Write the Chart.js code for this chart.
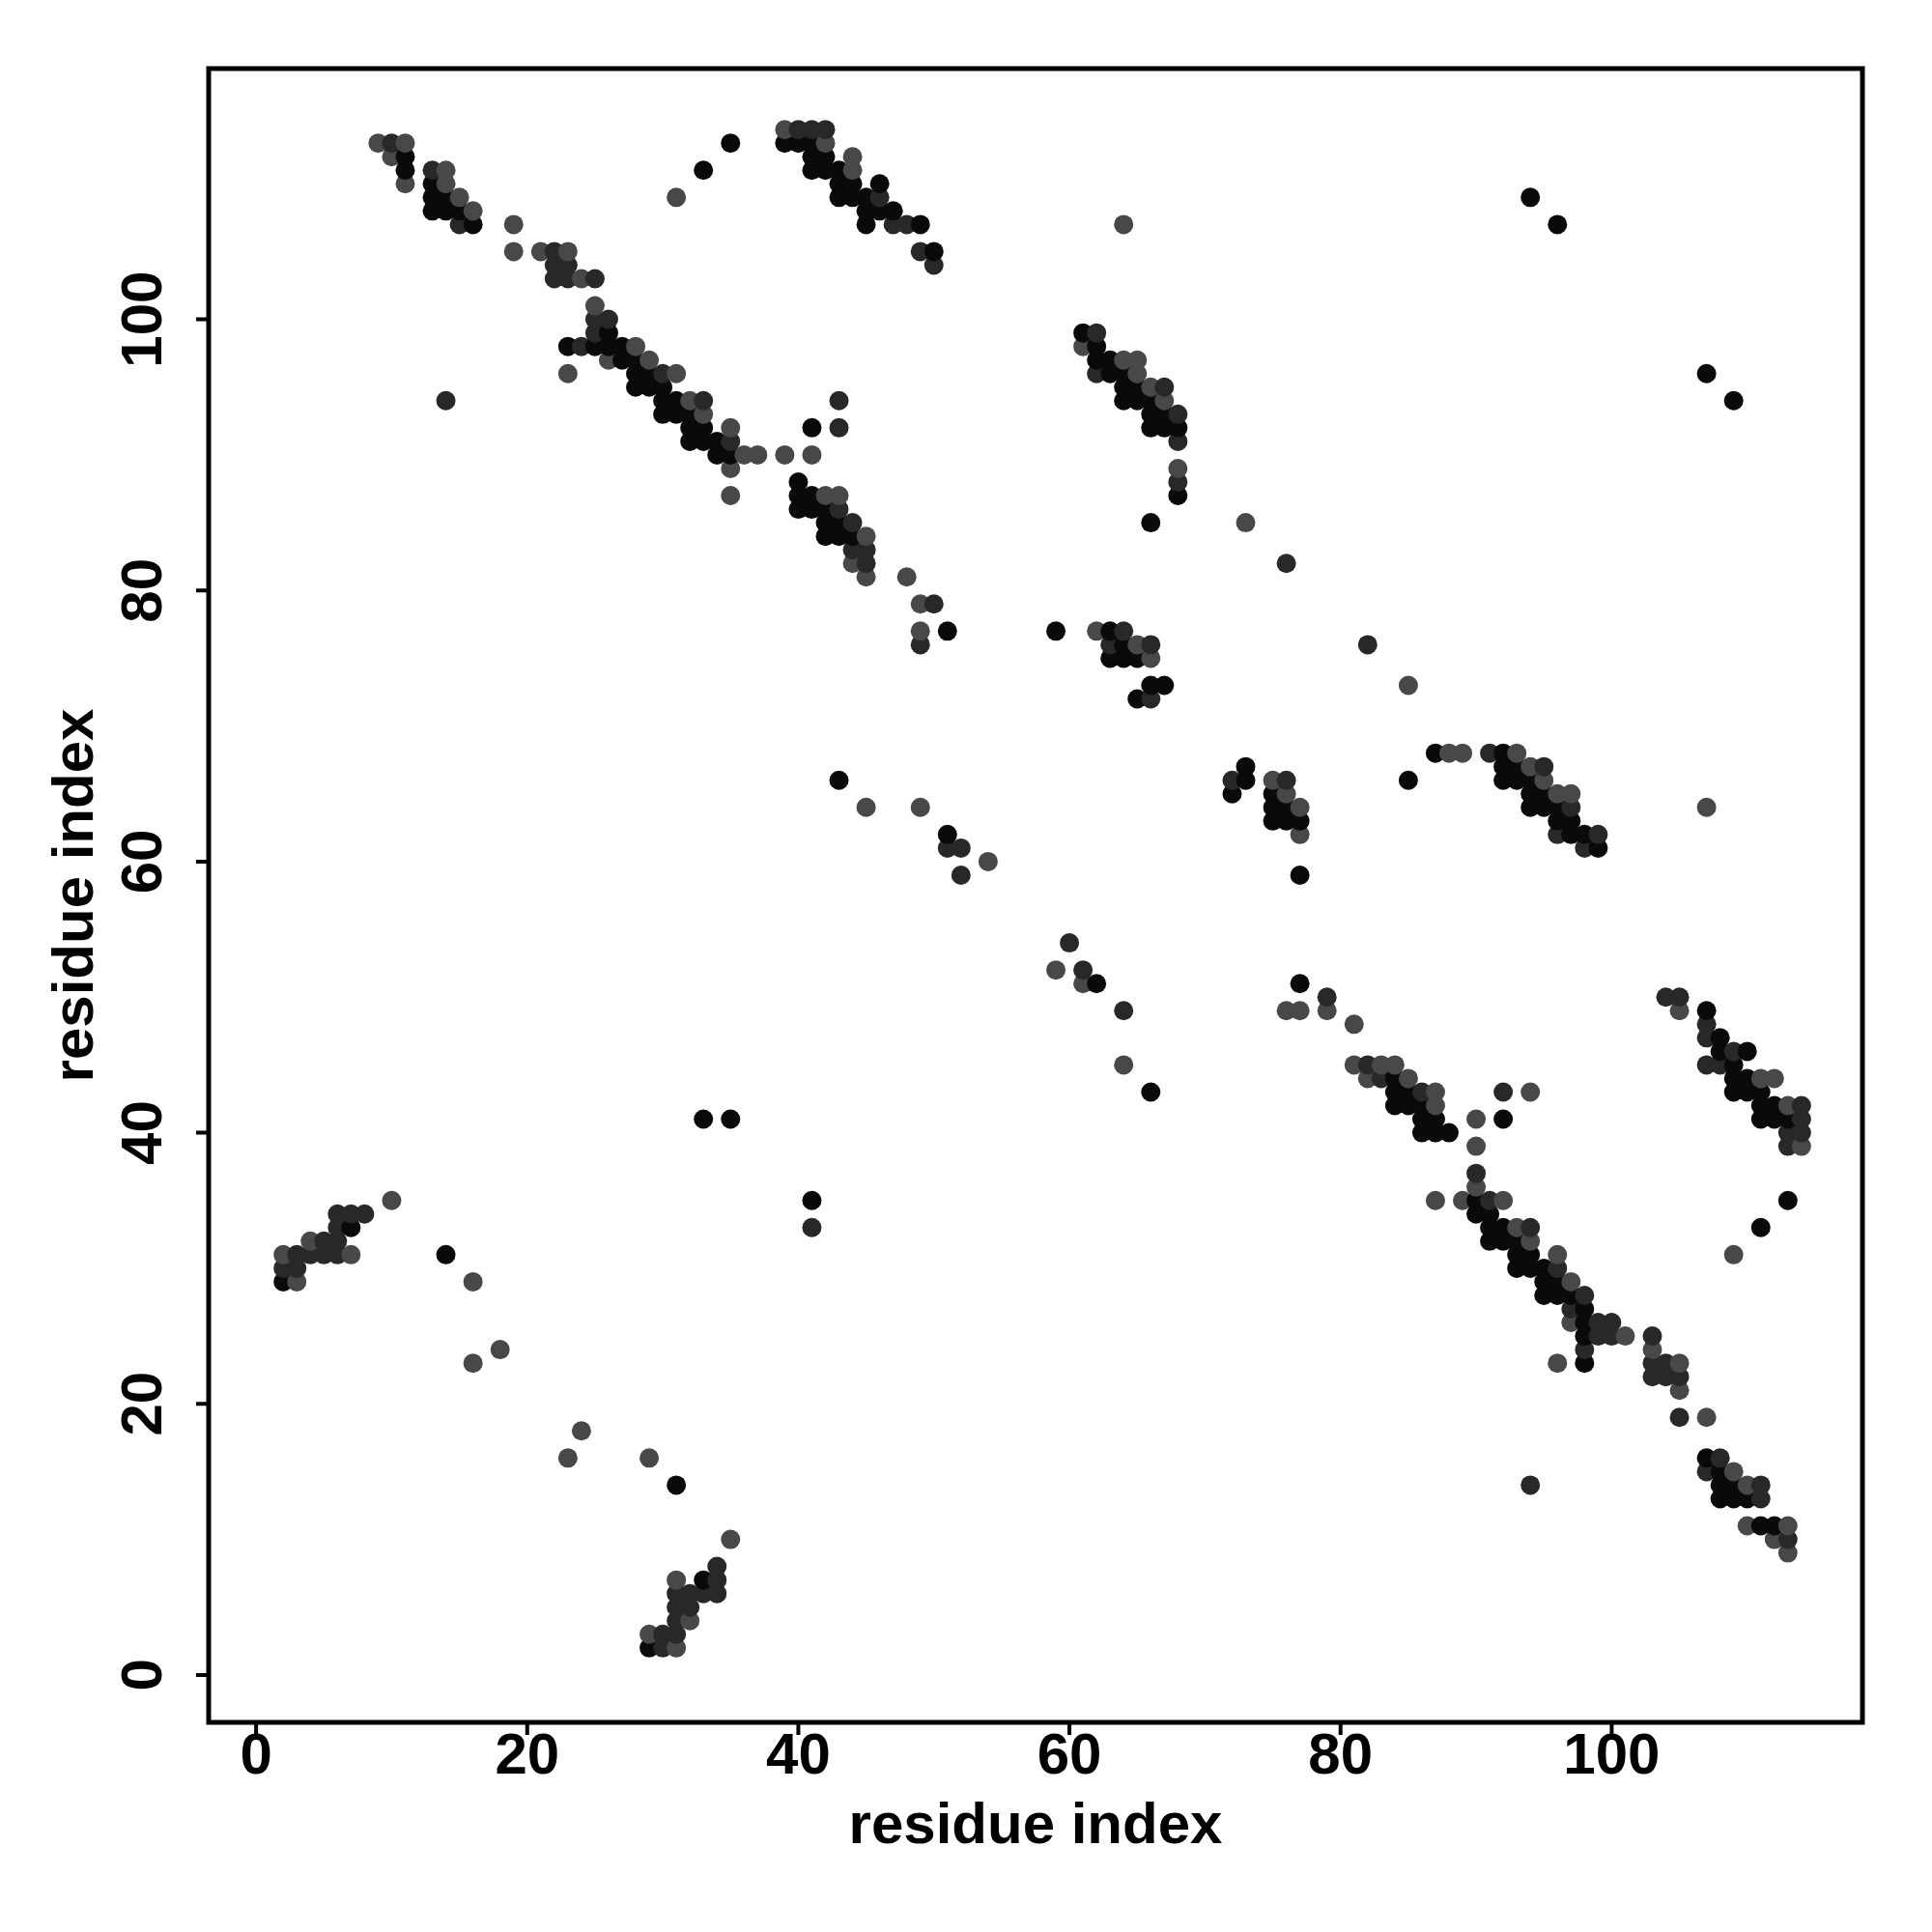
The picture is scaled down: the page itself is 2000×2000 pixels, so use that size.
<!DOCTYPE html>
<html><head><meta charset="utf-8">
<script src="https://cdn.jsdelivr.net/npm/chart.js@4.4.1/dist/chart.umd.min.js"></script>
<style>html,body{margin:0;padding:0;background:#fff}#wrap{width:2000px;height:2000px}</style>
</head><body><div id="wrap"><canvas id="c" width="2000" height="2000"></canvas></div>
<script>
// contacts drawn in near-black
const blackContacts = [[11,112],[11,111],[13,110],[13,109],[14,109],[13,108],[14,108],[15,108],[16,107],[26,99],[23,98],[25,98],[26,98],
[27,98],[27,97],[28,97],[28,96],[29,96],[28,95],[29,95],[30,95],[30,94],[31,94],[30,93],[31,93],[32,93],[32,92],[33,92],[32,91],[33,91],[34,91],[34,90],[35,90],
[33,111],[35,113],
[39,113],[40,113],[41,113],[41,112],[42,112],[41,111],[42,111],[43,111],[43,110],[44,110],[46,110],[43,109],[44,109],[45,109],[45,108],[46,108],[47,108],[45,107],[49,107],[50,105],[41,92],[40,88],[40,87],[41,87],[40,86],[41,86],[42,86],[42,85],[43,85],[42,84],[43,84],[44,84],[51,77],
[61,99],[62,98],[62,97],[63,97],[63,96],[64,96],[64,95],[65,95],[64,94],[65,94],[66,94],[66,93],[67,93],[66,92],[67,92],[68,92],[68,87],[66,85],[59,77],[63,77],[64,76],[63,75],[64,75],[65,75],[66,73],[67,73],[65,72],[73,67],[73,66],[72,65],[75,65],[75,64],[76,64],[75,63],[76,63],[77,63],[77,59],
[85,66],[87,68],[92,68],[92,67],[93,67],[92,66],[93,66],[94,66],[94,65],[95,65],[94,64],[95,64],[96,64],[96,63],[97,63],[97,62],[98,62],[99,61],
[84,44],[84,43],[85,43],[84,42],[85,42],[86,42],[86,41],[87,41],[86,40],[87,40],[88,40],[92,41],
[107,49],[108,47],[108,46],[110,46],[109,45],[109,44],[110,44],[109,43],[110,43],[111,43],[111,42],[112,42],[111,41],[112,41],[113,41],
[90,35],[90,34],[91,34],[91,33],[92,33],[91,32],[92,32],[93,32],[93,31],[94,31],[93,30],[94,30],[95,30],[95,29],[96,29],[95,28],[96,28],[97,28],[98,27],[98,26],[98,25],[98,23],
[107,16],[108,15],[108,14],[109,14],[108,13],[109,13],[110,13],[111,11],[112,11],
[7,33],[2,29],[33,7],[29,2],
[94,109],[96,107],[107,96],[109,94],[43,66],[51,62],[62,51],[66,43],[77,51],[113,35],[111,33],[33,41],[35,41],[41,35],[14,31],[31,14]];

// contacts drawn in dark grey
const darkContacts = [[10,113],[13,111],[15,107],[22,105],[22,104],[23,104],[22,103],[23,103],[25,103],[25,100],[26,100],[25,99],[24,98],[14,94],
[30,96],[33,94],[35,91],
[40,114],[41,114],[42,114],[46,109],[47,107],[48,107],[49,105],[50,104],[43,94],[43,92],[43,86],[44,85],[44,83],[45,83],[45,82],[50,79],[49,76],
[62,99],[62,96],[67,95],[68,93],[68,91],[68,88],[76,82],[64,77],[63,76],[66,76],[66,72],[72,66],[76,66],
[91,68],[95,67],[97,64],[96,62],[99,62],[98,61],
[79,50],[82,45],[83,44],[86,43],[92,43],
[104,50],[105,50],[107,48],[107,47],[109,46],[107,45],[108,45],[114,42],[114,41],[113,40],[114,40],[113,39],
[90,37],[91,35],[94,33],[96,30],[98,28],[97,27],[99,26],[100,26],[99,25],[100,25],[98,24],
[103,25],[103,23],[104,23],[103,22],[104,22],[105,22],[105,19],[108,16],[107,15],[111,14],[111,13],[113,10],
[6,34],[7,34],[8,34],[6,33],[5,32],[6,32],[3,31],[4,31],[5,31],[6,31],[2,30],[3,30],
[34,8],[34,7],[31,6],[32,6],[33,6],[34,6],[31,5],[32,5],[31,4],[30,3],[31,3],[30,2],
[82,76],[51,61],[52,61],[52,59],[60,54],[61,52],[64,49],[94,14],[41,33]];

// contacts drawn in mid grey
const grayContacts = [[9,113],[11,113],[10,112],[11,110],[14,111],[14,110],[15,109],[16,108],[19,107],[19,105],[21,105],[23,105],[24,103],[25,101],[26,97],[23,96],
[28,98],[29,97],[31,96],[32,94],[33,93],[35,92],[36,90],[37,90],[39,90],[35,89],[35,87],
[39,114],[42,113],[44,112],[44,111],[42,87],[43,87],[45,84],[44,82],[45,81],[48,81],[49,79],[49,77],[41,90],
[61,98],[64,97],[65,97],[65,96],[66,95],[67,94],[68,89],[73,85],[62,77],[65,76],[66,75],[75,66],[76,65],[77,64],[77,62],
[88,68],[89,68],[93,68],[94,67],[95,66],[96,65],[97,65],
[79,49],[81,48],[81,45],[83,45],[84,45],[82,44],[85,44],[87,43],[87,42],[94,43],[90,41],[90,39],
[105,49],[111,44],[112,44],[113,42],[114,39],
[90,36],[87,35],[89,35],[92,35],[93,33],[94,32],[96,31],[97,29],[97,26],[101,25],[96,23],
[103,24],[105,23],[105,21],[107,19],[109,15],[110,14],[110,11],[113,11],[112,10],[113,9],
[10,35],[4,32],[2,31],[7,31],[3,29],
[35,10],[31,7],[32,4],[29,3],[31,2],
[31,109],[64,107],[85,73],[107,64],[45,64],[49,64],[54,60],[59,52],[61,51],[64,45],[76,49],[77,49],[109,31],[16,29],[16,23],[18,24],[24,18],[23,16],[29,16]];

const tickValues = [0, 20, 40, 60, 80, 100];
const xTitle = 'residue index';
const yTitle = 'residue index';

const shadeColors = { black: '#0a0a0a', dark: '#282828', gray: '#484848' };

const allPoints = [];
blackContacts.forEach(p => allPoints.push({x: p[0], y: p[1], c: shadeColors.black}));
darkContacts.forEach(p => allPoints.push({x: p[0], y: p[1], c: shadeColors.dark}));
grayContacts.forEach(p => allPoints.push({x: p[0], y: p[1], c: shadeColors.gray}));
allPoints.sort((a, b) => a.x - b.x || a.y - b.y);

const FONT = '"Liberation Sans", Arial, Helvetica, sans-serif';
const FONT_SIZE = 60;

const framePlugin = {
  id: 'frame',
  afterDraw(chart) {
    const {ctx, chartArea: a, scales: {x, y}} = chart;
    ctx.save();
    ctx.strokeStyle = '#000';
    ctx.lineWidth = 5;
    ctx.strokeRect(a.left, a.top, a.right - a.left, a.bottom - a.top);
    ctx.lineWidth = 4;
    ctx.beginPath();
    tickValues.forEach(v => {
      const px = x.getPixelForValue(v);
      ctx.moveTo(px, a.bottom); ctx.lineTo(px, a.bottom + 13);
      const py = y.getPixelForValue(v);
      ctx.moveTo(a.left, py); ctx.lineTo(a.left - 13, py);
    });
    ctx.stroke();
    ctx.fillStyle = '#000';
    ctx.font = 'bold ' + FONT_SIZE + 'px ' + FONT;
    ctx.textAlign = 'center';
    ctx.textBaseline = 'middle';
    tickValues.forEach(v => {
      ctx.fillText(String(v), x.getPixelForValue(v), a.bottom + 36);
      ctx.save();
      ctx.translate(a.left - 66, y.getPixelForValue(v));
      ctx.rotate(-Math.PI / 2);
      ctx.fillText(String(v), 0, 0);
      ctx.restore();
    });
    ctx.restore();
  }
};

new Chart(document.getElementById('c'), {
  type: 'scatter',
  data: {
    datasets: [{
      data: allPoints.map(p => ({x: p.x, y: p.y})),
      backgroundColor: allPoints.map(p => p.c),
      borderWidth: 0,
      pointRadius: 10,
      pointHoverRadius: 10
    }]
  },
  options: {
    responsive: false,
    animation: false,
    devicePixelRatio: 1,
    layout: { padding: { top: 71, right: 72, bottom: 0, left: 0 } },
    plugins: { legend: { display: false }, tooltip: { enabled: false } },
    scales: {
      x: {
        type: 'linear', position: 'bottom', min: -3.5, max: 118.5,
        grid: { display: false }, border: { display: false },
        ticks: { display: false },
        title: { display: true, text: xTitle, color: '#000',
                 font: { family: FONT, size: FONT_SIZE, weight: 'bold' },
                 padding: { top: 0, bottom: 73 } },
        afterFit(scale) { scale.height = 217; }
      },
      y: {
        type: 'linear', position: 'left', min: -3.5, max: 118.5,
        grid: { display: false }, border: { display: false },
        ticks: { display: false },
        title: { display: true, text: yTitle, color: '#000',
                 font: { family: FONT, size: FONT_SIZE, weight: 'bold' },
                 padding: { top: 43, bottom: 0 } },
        afterFit(scale) { scale.width = 216; }
      }
    }
  },
  plugins: [framePlugin]
});
</script>
</body></html>
